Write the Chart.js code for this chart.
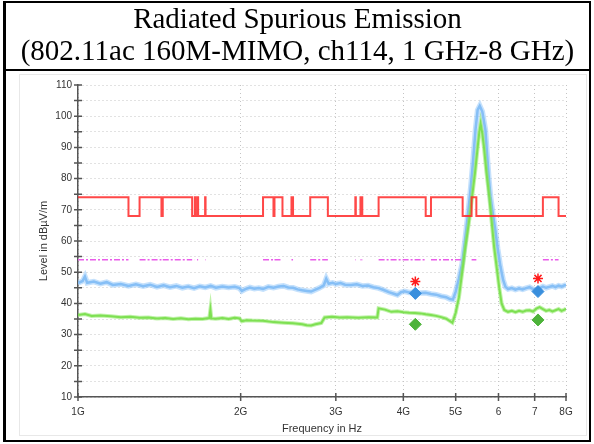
<!DOCTYPE html>
<html>
<head>
<meta charset="utf-8">
<script src="https://cdn.jsdelivr.net/npm/chart.js@4.4.1/dist/chart.umd.min.js"></script>
<style>
  html, body { margin:0; padding:0; background:#fff; }
  #wrap { position:relative; width:594px; height:444px; overflow:hidden; }
  #frame { position:absolute; left:3px; top:1px; width:588px; height:441px; box-sizing:border-box;
           border:2px solid #000; border-left-width:3px; }
  #divider { position:absolute; left:3px; top:69px; width:588px; height:2px; background:#000; }
  #title { position:absolute; left:6px; top:2px; width:583px; text-align:center;
           font-family:"Liberation Serif", "Times New Roman", serif; font-size:29px; line-height:32px; color:#000; }
  #inner { position:absolute; left:19px; top:74px; width:566px; height:360px; border:1px solid #e8e8e8; }
  #c { position:absolute; left:0; top:0; }
</style>
</head>
<body>
<div id="wrap">
  <div id="inner"></div>
  <canvas id="c" width="594" height="444"></canvas>
  <div id="frame"></div>
  <div id="divider"></div>
  <div id="title">Radiated Spurious Emission<br>(802.11ac 160M-MIMO, ch114, 1 GHz-8 GHz)</div>
</div>
<script>
// ── axis ticks ──
const X_TICKS  = [1, 2, 3, 4, 5, 6, 7, 8];           // GHz
const X_LABELS = ['1G','2G','3G','4G','5G','6','7','8G'];

// ── restricted bands (GHz): limit 74 inside, 68 outside; avg limit 54 drawn only inside ──
const BANDS = [[1.0,1.24],[1.3,1.427],[1.435,1.6265],[1.6455,1.6465],[1.6608,1.6684],[1.7188,1.7222],
  [2.2,2.3],[2.31,2.39],[2.4835,2.5],[2.69,2.9],[3.26,3.267],[3.332,3.339],[3.3458,3.358],
  [3.6,4.4],[4.5,5.15],[5.35,5.46],[7.25,7.75]];
const PEAK_LIMIT = 74, OTHER_LIMIT = 68, AVG_LIMIT = 54;

// ── peak trace (blue) ──
const BLUE_F = [1.00,1.02,1.03,1.04,1.07,1.10,1.13,1.16,1.20,1.24,1.28,1.32,1.36,1.40,1.44,1.48,1.52,1.56,1.60,1.64,
  1.68,1.72,1.76,1.80,1.85,1.90,1.95,1.99,2.01,2.04,2.08,2.12,2.16,2.20,2.25,2.30,2.35,2.40,2.45,2.50,
  2.55,2.60,2.65,2.70,2.75,2.80,2.85,2.88,2.91,2.96,3.00,3.06,3.12,3.20,3.28,3.36,3.44,3.52,3.60,3.68,
  3.76,3.84,3.90,3.96,4.02,4.10,4.20,4.30,4.40,4.50,4.60,4.70,4.80,4.88,4.94,5.00,5.07,5.14,5.20,5.27,
  5.33,5.38,5.44,5.49,5.54,5.60,5.675,5.72,5.76,5.80,5.86,5.92,5.98,6.05,6.12,6.18,6.25,6.35,6.45,6.55,
  6.65,6.75,6.85,6.95,7.05,7.15,7.25,7.35,7.45,7.55,7.65,7.75,7.85,7.95,8.00];
const BLUE_V = [46.5,47.2,48.6,46.6,47.0,46.3,46.8,45.9,46.2,45.6,46.1,45.5,46.0,45.3,45.8,45.2,45.6,45.0,45.4,44.9,
  45.5,45.1,45.6,45.0,45.4,45.1,45.3,44.9,44.0,44.6,45.1,44.7,44.9,44.6,45.3,45.0,45.4,45.6,45.1,45.0,
  44.5,44.2,44.0,43.8,44.4,45.0,45.8,47.9,46.3,46.6,46.2,46.5,46.0,45.9,46.1,45.6,45.7,45.2,44.9,44.3,
  43.6,43.1,42.7,43.6,43.9,43.5,43.6,43.3,43.4,43.0,42.8,42.3,42.0,41.4,41.2,43.8,48.0,52.8,60.0,68.8,
  77.0,85.0,95.6,102.0,103.3,101.5,95.6,87.0,80.0,74.2,68.5,63.5,57.5,51.8,47.5,45.3,44.6,44.9,44.4,44.8,
  44.5,44.9,45.2,44.6,44.3,44.9,45.4,45.0,45.3,45.6,45.2,45.7,45.4,45.8,45.9];

// ── average trace (green) ──
const GREEN_F = [1.00,1.03,1.06,1.10,1.15,1.20,1.25,1.30,1.35,1.40,1.45,1.50,1.55,1.60,1.65,1.70,1.75,1.758,1.765,1.80,
  1.85,1.90,1.95,1.99,2.01,2.05,2.10,2.20,2.30,2.40,2.50,2.60,2.65,2.70,2.75,2.82,2.86,2.95,3.05,3.15,
  3.30,3.45,3.58,3.60,3.70,3.80,3.90,4.00,4.10,4.20,4.30,4.40,4.50,4.60,4.70,4.80,4.88,4.93,5.00,5.07,
  5.14,5.21,5.29,5.36,5.43,5.49,5.53,5.56,5.60,5.64,5.70,5.77,5.83,5.89,5.96,6.02,6.08,6.15,6.25,6.35,
  6.45,6.55,6.65,6.75,6.85,6.95,7.05,7.15,7.25,7.35,7.45,7.55,7.65,7.75,7.85,7.95,8.00];
const GREEN_V = [36.3,36.6,36.0,36.1,35.9,35.6,35.7,35.4,35.5,35.2,35.3,35.0,35.2,34.9,35.1,35.0,35.3,38.0,35.2,35.1,
  35.3,35.0,35.4,35.2,34.3,34.6,34.5,34.4,34.0,33.8,33.6,33.3,33.0,32.9,33.3,33.7,35.5,35.7,35.5,35.6,
  35.4,35.6,35.5,38.4,38.0,37.3,37.5,37.2,37.0,36.9,36.8,36.5,36.3,36.0,35.6,35.1,34.3,33.8,37.0,42.0,
  50.0,58.0,66.0,74.0,82.0,90.0,95.0,97.6,94.5,90.0,82.0,74.0,66.0,58.0,51.0,45.0,40.0,37.9,37.3,37.6,
  37.2,37.6,37.3,37.7,37.8,37.4,38.3,38.8,38.2,37.6,37.9,37.4,37.8,38.2,37.6,38.0,38.3];

// ── final measurement markers ──
const MARK_F    = [4.21, 7.10];
const MARK_PK   = [47.0, 48.0];   // red star
const MARK_BLUE = [43.2, 43.8];   // blue diamond
const MARK_GRN  = [33.3, 34.7];   // green diamond

const pts = (f, v) => f.map((x, i) => ({x, y: v[i]}));

// stepped limit line built from the band list
const limitPts = [];
let cur = 1;
BANDS.forEach(([a, b]) => {
  if (a > cur) limitPts.push({x: cur, y: OTHER_LIMIT});
  limitPts.push({x: a, y: PEAK_LIMIT});
  cur = b;
});
limitPts.push({x: cur, y: OTHER_LIMIT});
limitPts.push({x: 8, y: OTHER_LIMIT});

const avgPts = [];
BANDS.forEach(([a, b]) => { avgPts.push({x: a, y: AVG_LIMIT}, {x: b, y: AVG_LIMIT}, {x: b, y: null}); });

// ticks crossing the axis lines
const crossTicks = {
  id: 'crossTicks',
  afterDraw(chart) {
    const {ctx, scales: {x, y}, chartArea: a} = chart;
    ctx.save();
    ctx.strokeStyle = '#555'; ctx.lineWidth = 1.5;
    ctx.beginPath();
    y.ticks.forEach(t => { const py = y.getPixelForValue(t.value); ctx.moveTo(a.left - 4, py); ctx.lineTo(a.left + 4, py); });
    x.ticks.forEach(t => { const px = x.getPixelForValue(t.value); ctx.moveTo(px, a.bottom - 4); ctx.lineTo(px, a.bottom + 4); });
    ctx.stroke();
    ctx.restore();
  }
};

const FONT = 'Liberation Sans, Arial, sans-serif';

new Chart(document.getElementById('c').getContext('2d'), {
  type: 'line',
  data: {
    datasets: [
      { data: pts(MARK_F, MARK_PK), showLine: false, pointStyle: 'star', pointRadius: 5, borderColor: '#ff1a1a', borderWidth: 1.5 },
      { data: pts(MARK_F, MARK_BLUE), showLine: false, pointStyle: 'rectRot', pointRadius: 6, backgroundColor: '#3a8fdd', borderColor: '#3a8fdd' },
      { data: pts(MARK_F, MARK_GRN), showLine: false, pointStyle: 'rectRot', pointRadius: 6, backgroundColor: '#4db33a', borderColor: '#4db33a' },
      { data: limitPts, stepped: true, borderColor: 'rgba(255,40,40,0.85)', borderWidth: 2, pointRadius: 0 },
      { data: avgPts, borderColor: '#ea5cea', borderWidth: 1.5, borderDash: [6,2,2,2], pointRadius: 0, spanGaps: false },
      // green: core line over a soft halo for the noisy band
      { data: pts(GREEN_F, GREEN_V), borderColor: '#7ee052', borderWidth: 2, pointRadius: 0 },
      { data: pts(GREEN_F, GREEN_V), borderColor: 'rgba(140,232,100,0.55)', borderWidth: 4, pointRadius: 0 },
      { data: pts(BLUE_F, BLUE_V), borderColor: '#86bff6', borderWidth: 2.5, pointRadius: 0 },
      { data: pts(BLUE_F, BLUE_V), borderColor: 'rgba(150,200,250,0.55)', borderWidth: 5.5, pointRadius: 0 }
    ]
  },
  options: {
    responsive: false, animation: false,
    layout: { padding: { left: 0, right: 28, top: 85, bottom: 0 } },
    plugins: { legend: { display: false }, tooltip: { enabled: false } },
    scales: {
      x: {
        type: 'logarithmic', min: 1, max: 8,
        afterFit: s => { s.height = 47; },
        afterBuildTicks: s => { s.ticks = X_TICKS.map(v => ({value: v})); },
        ticks: { autoSkip: false, maxRotation: 0, padding: 9, color: '#333', font: { family: FONT, size: 10 },
                 callback: (v, i) => X_LABELS[i] },
        grid: { color: '#c4c4c4', lineWidth: 1, drawTicks: false },
        border: { display: true, color: '#555', width: 1.5, dash: [1, 3] },
        title: { display: true, text: 'Frequency in Hz', color: '#333', font: { family: FONT, size: 11 }, padding: { top: 0, bottom: 8 } }
      },
      y: {
        min: 10, max: 110,
        afterFit: s => { s.width = 78; },
        ticks: { stepSize: 5, autoSkip: false, padding: 6, color: '#333', font: { family: FONT, size: 10 },
                 callback: v => (v % 10 === 0 ? v : '') },
        grid: { color: '#c4c4c4', lineWidth: 1, drawTicks: false },
        border: { display: true, color: '#555', width: 1.5, dash: [1, 3] },
        title: { display: true, text: 'Level in dBµV/m', color: '#333', font: { family: FONT, size: 11 }, padding: { top: 37, bottom: 0 } }
      }
    }
  },
  plugins: [crossTicks]
});
</script>
</body>
</html>
